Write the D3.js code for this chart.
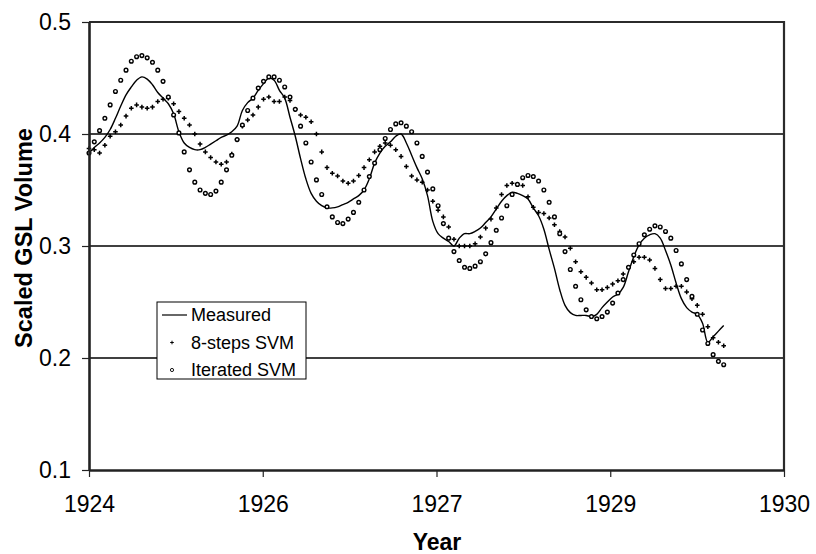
<!DOCTYPE html>
<html>
<head>
<meta charset="utf-8">
<script src="https://cdn.jsdelivr.net/npm/d3@7"></script>
<style>
  body { margin: 0; background: #fff; }
  svg { display: block; font-family: "Liberation Sans", Arial, sans-serif; }
</style>
</head>
<body>
<div class="main"></div>
<script>
// values per sample (one sample per step along the x axis)
const measured = [
  0.383, 0.388, 0.392, 0.397, 0.404, 0.414, 0.425, 0.435, 0.442, 0.448,
  0.451, 0.449, 0.444, 0.437, 0.432, 0.427, 0.418, 0.402, 0.392, 0.388,
  0.386, 0.386, 0.388, 0.391, 0.394, 0.397, 0.399, 0.402, 0.407, 0.421,
  0.428, 0.432, 0.439, 0.445, 0.450, 0.448, 0.439, 0.432, 0.415, 0.398,
  0.378, 0.360, 0.347, 0.340, 0.336, 0.334, 0.334, 0.335, 0.337, 0.339,
  0.342, 0.345, 0.350, 0.360, 0.374, 0.383, 0.389, 0.393, 0.398, 0.400,
  0.392, 0.381, 0.370, 0.360, 0.345, 0.322, 0.311, 0.307, 0.304, 0.300,
  0.307, 0.311, 0.311, 0.313, 0.316, 0.321, 0.326, 0.333, 0.340, 0.345,
  0.348, 0.347, 0.345, 0.342, 0.334, 0.327, 0.315, 0.297, 0.280, 0.261,
  0.247, 0.2405, 0.238, 0.238, 0.238, 0.237, 0.239, 0.245, 0.250, 0.2545,
  0.257, 0.263, 0.277, 0.2905, 0.301, 0.307, 0.310, 0.311, 0.307, 0.296,
  0.283, 0.267, 0.253, 0.245, 0.241, 0.239, 0.231, 0.214, 0.219, 0.224,
  0.229
];

const svm8 = [
  0.387, 0.386, 0.383, 0.390, 0.398, 0.402, 0.408, 0.416, 0.423, 0.426,
  0.424, 0.423, 0.424, 0.429, 0.431, 0.432, 0.427, 0.420, 0.414, 0.408,
  0.400, 0.391, 0.384, 0.379, 0.375, 0.373, 0.375, 0.382, 0.395, 0.407,
  0.4125, 0.417, 0.424, 0.431, 0.433, 0.429, 0.429, 0.433, 0.430, 0.422,
  0.417, 0.415, 0.411, 0.400, 0.384, 0.370, 0.365, 0.3625, 0.358, 0.356,
  0.358, 0.363, 0.370, 0.377, 0.384, 0.389, 0.392, 0.390, 0.386, 0.380,
  0.371, 0.3625, 0.359, 0.357, 0.350, 0.340, 0.332, 0.326, 0.317, 0.306,
  0.300, 0.300, 0.300, 0.302, 0.308, 0.316, 0.324, 0.334, 0.346, 0.354,
  0.356, 0.355, 0.354, 0.344, 0.3345, 0.330, 0.329, 0.325, 0.319, 0.313,
  0.308, 0.298, 0.286, 0.277, 0.272, 0.267, 0.261, 0.261, 0.263, 0.266,
  0.269, 0.275, 0.281, 0.286, 0.290, 0.290, 0.2875, 0.280, 0.270, 0.262,
  0.262, 0.264, 0.264, 0.259, 0.253, 0.247, 0.239, 0.228, 0.218, 0.214,
  0.211
];

const svmIter = [
  0.383, 0.393, 0.403, 0.414, 0.426, 0.438, 0.448, 0.457, 0.465, 0.469,
  0.470, 0.468, 0.464, 0.457, 0.447, 0.433, 0.417, 0.401, 0.384, 0.368,
  0.357, 0.350, 0.347, 0.346, 0.349, 0.357, 0.368, 0.381, 0.395, 0.408,
  0.421, 0.432, 0.441, 0.447, 0.451, 0.451, 0.448, 0.442, 0.433, 0.422,
  0.407, 0.392, 0.375, 0.359, 0.346, 0.335, 0.326, 0.321, 0.320, 0.324,
  0.330, 0.339, 0.350, 0.362, 0.374, 0.386, 0.396, 0.404, 0.409, 0.410,
  0.407, 0.402, 0.392, 0.380, 0.366, 0.351, 0.336, 0.320, 0.307, 0.295,
  0.287, 0.281, 0.280, 0.282, 0.286, 0.293, 0.303, 0.314, 0.325, 0.336,
  0.346, 0.355, 0.361, 0.363, 0.362, 0.358, 0.350, 0.339, 0.326, 0.311,
  0.295, 0.279, 0.264, 0.252, 0.243, 0.237, 0.235, 0.237, 0.241, 0.249,
  0.258, 0.270, 0.281, 0.292, 0.302, 0.310, 0.315, 0.318, 0.317, 0.313,
  0.307, 0.296, 0.284, 0.270, 0.255, 0.239, 0.225, 0.213, 0.203, 0.197,
  0.194
];

const xTickLabels = ["1924", "1926", "1927", "1929", "1930"];
const yTicks = [0.1, 0.2, 0.3, 0.4, 0.5];
const legendNames = ["Measured", "8-steps SVM", "Iterated SVM"];

const w = 816;
const h = 554;
const plotL = 89, plotR = 784, plotT = 22, plotB = 470;
const xMax = 131.4;   // samples spanned by the axis

const svg = d3.select(".main")
  .append("svg")
  .attr("width", w)
  .attr("height", h);

svg.append("rect")
  .attr("width", w)
  .attr("height", h)
  .attr("fill", "#fff");

const xScale = d3.scaleLinear()
  .domain([0, xMax])
  .range([plotL, plotR]);

const yScale = d3.scaleLinear()
  .domain([0.1, 0.5])
  .range([plotB, plotT]);

const xTickPos = xTickLabels.map((d, i) => i * xMax / (xTickLabels.length - 1));

// grid lines
svg.selectAll(".grid")
  .data(yTicks.slice(1, -1))
  .enter()
  .append("line")
  .attr("class", "grid")
  .attr("x1", plotL)
  .attr("x2", plotR)
  .attr("y1", (d) => yScale(d))
  .attr("y2", (d) => yScale(d))
  .attr("stroke", "#000")
  .attr("stroke-width", 1.3);

// top and right frame
svg.append("path")
  .attr("d", "M" + plotL + "," + yScale(0.5) + "H" + plotR + "V" + plotB)
  .attr("fill", "none")
  .attr("stroke", "#2b2b2b")
  .attr("stroke-width", 2.2);

// measured line
const line = d3.line()
  .x((d, i) => xScale(i))
  .y((d) => yScale(d))
  .curve(d3.curveCatmullRom.alpha(0.5));

svg.append("path")
  .datum(measured)
  .attr("d", line)
  .attr("fill", "none")
  .attr("stroke", "#000")
  .attr("stroke-width", 1.4);

// 8-steps SVM pluses
svg.selectAll(".plus")
  .data(svm8)
  .enter()
  .append("path")
  .attr("class", "plus")
  .attr("transform", (d, i) => "translate(" + xScale(i) + "," + yScale(d) + ")")
  .attr("d", "M-2.3,0H2.3M0,-2.3V2.3")
  .attr("stroke", "#000")
  .attr("stroke-width", 1.5);

// iterated SVM circles
svg.selectAll(".circ")
  .data(svmIter)
  .enter()
  .append("circle")
  .attr("class", "circ")
  .attr("cx", (d, i) => xScale(i))
  .attr("cy", (d) => yScale(d))
  .attr("r", 1.85)
  .attr("fill", "#fff")
  .attr("stroke", "#000")
  .attr("stroke-width", 1.4);

// axes
const xAxis = d3.axisBottom(xScale)
  .tickValues(xTickPos)
  .tickFormat((d, i) => xTickLabels[i])
  .tickSize(7)
  .tickSizeOuter(0)
  .tickPadding(19);

const gx = svg.append("g")
  .attr("transform", "translate(0," + plotB + ")")
  .call(xAxis);

const yAxis = d3.axisLeft(yScale)
  .tickValues(yTicks)
  .tickFormat(d3.format(".1f"))
  .tickSize(7)
  .tickSizeOuter(0)
  .tickPadding(11);

const gy = svg.append("g")
  .attr("transform", "translate(" + plotL + ",0)")
  .call(yAxis);

[gx, gy].forEach((g) => {
  g.select(".domain").attr("stroke", "#222").attr("stroke-width", 2.6);
  g.selectAll(".tick line").attr("stroke", "#222").attr("stroke-width", 1.2);
  g.selectAll(".tick text")
    .attr("fill", "#000")
    .style("font-family", "'Liberation Sans', Arial, sans-serif")
    .style("font-size", "23px");
});

// axis titles
svg.append("text")
  .attr("x", 437)
  .attr("y", 550)
  .style("text-anchor", "middle")
  .style("font-weight", "bold")
  .style("font-size", "23px")
  .text("Year");

svg.append("text")
  .attr("transform", "translate(32," + 238 + ") rotate(-90)")
  .style("text-anchor", "middle")
  .style("font-weight", "bold")
  .style("font-size", "23.5px")
  .text("Scaled GSL Volume");

// legend
const lg = svg.append("g").attr("transform", "translate(157,302)");

lg.append("rect")
  .attr("width", 149)
  .attr("height", 77)
  .attr("fill", "#fff")
  .attr("stroke", "#000")
  .attr("stroke-width", 1);

const rowY = (i) => 13 + i * 27.5;

lg.selectAll(".lt")
  .data(legendNames)
  .enter()
  .append("text")
  .attr("class", "lt")
  .attr("x", 34)
  .attr("y", (d, i) => rowY(i))
  .attr("dy", "0.35em")
  .style("font-size", "18px")
  .text((d) => d);

lg.append("line")
  .attr("x1", 5)
  .attr("x2", 30)
  .attr("y1", rowY(0))
  .attr("y2", rowY(0))
  .attr("stroke", "#000")
  .attr("stroke-width", 1.2);

lg.append("path")
  .attr("transform", "translate(15," + rowY(1) + ")")
  .attr("d", "M-1.8,0H1.8M0,-1.8V1.8")
  .attr("stroke", "#000")
  .attr("stroke-width", 1);

lg.append("circle")
  .attr("cx", 15)
  .attr("cy", rowY(2))
  .attr("r", 1.6)
  .attr("fill", "#fff")
  .attr("stroke", "#000")
  .attr("stroke-width", 0.9);
</script>
</body>
</html>
